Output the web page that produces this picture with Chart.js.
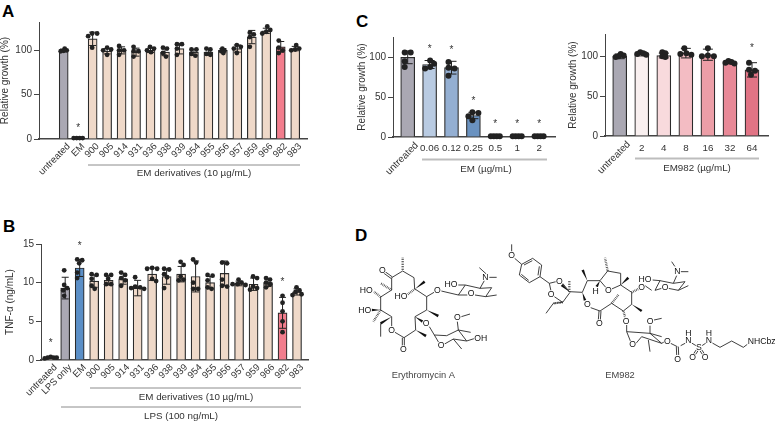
<!DOCTYPE html>
<html><head><meta charset="utf-8">
<script src="https://cdn.jsdelivr.net/npm/chart.js@4/dist/chart.umd.min.js"></script>
<style>
html,body{margin:0;padding:0;background:#fff;width:775px;height:422px;overflow:hidden}
canvas{position:absolute}
.letter{position:absolute;font:bold 17px "Liberation Sans",Arial,sans-serif;color:#000;line-height:17px}
</style></head><body>
<div class="letter" style="left:2px;top:3px">A</div>
<div class="letter" style="left:3px;top:218px">B</div>
<div class="letter" style="left:356px;top:13px">C</div>
<div class="letter" style="left:355px;top:227px">D</div>
<canvas id="cA"></canvas><canvas id="cB"></canvas><canvas id="cC1"></canvas><canvas id="cC2"></canvas>
<canvas id="mol" width="435" height="207" style="left:340px;top:215px"></canvas>
<script>
// ---------- data ----------
const labelsA=['untreated','EM','900','905','914','931','936','938','939','954','955','956','957','959','966','982','983'];
const meansA=[100,1,113,99,100,98,100,98,102,98,98,100,102,115,122,104,102];
const errorsA=[1.5,0,7.5,3,4,4.5,2.5,4,6,3.5,3.5,2,4,7.5,3,6,2.5];
const pointsA=[[102,100,99.5,99],[1,1,1,1],[119,119,116,103],[103,101,100,95],[105,100,100,95],[104,99,99,93],[104,102,100,98],[103,102,97,93],[107,107,102,95],[101,101,96,94],[102,101,96,95],[102,100,99,97],[106,104,102,97],[120,118,115,104],[127,123,121,119],[111,103,100,97],[106,102,101,100]];
const starsA=[[1,14]];
const ticksA=[0,50,100];

const labelsB=['untreated','LPS only','EM','900','905','914','931','936','938','939','954','955','956','957','959','966','982','983'];
const meansB=[0.3,9.3,11.9,10.2,10.3,10.5,9.3,11.1,10.8,11.1,10.8,10,11.2,9.9,9.8,10,6.1,8.8];
const errorsB=[0.05,1.4,1.1,0.8,0.6,0.7,1,0.8,1,1,2,0.8,1.6,0.3,0.8,0.5,2,0.4];
const pointsB=[[0.4,0.3,0.3,0.3,0.2],[11.6,9.7,9.3,9,8.3],[13,12.9,12.5,11.3,10.6],[11.1,11,10.5,9.6,9.2],[11,11,10.5,9.8,9.8],[11.3,11,10.6,10.3,9.6],[10.7,9.5,9.4,9.3,9.2],[11.9,11.8,11.8,10.5,10.2],[11.8,11.7,11.1,10.7,9.3],[12.7,12.3,10.8,10.4,10.3],[13,12.6,10,9.2,9.2],[11,10.9,10.3,9.4,9.2],[12.6,12.5,10.4,9.6,9.5],[10.4,10,9.8,9.8,9.7],[10.8,10.6,9.5,9.3,9.1],[10.6,10.4,10,9.8,9.4],[8.3,7.4,6.3,5,3.6],[9.4,9,8.8,8.5,8.4]];
const starsB=[[0,2.4],[2,15],[16,10.3]];
const ticksB=[0,5,10,15];

const labelsC1=['untreated','0.06','0.12','0.25','0.5','1','2'];
const meansC1=[100,91,87,27,1,1,1];
const errorsC1=[8,5,8,4,0,0,0];
const pointsC1=[[106,106,95,88],[96,92,88,86],[94,87,86,77],[31,30,26,21],[1,1,1,1],[1,1,1,1],[1,1,1,1]];
const starsC1=[[1,113],[2,111],[3,47],[4,18],[5,18],[6,18]];

const labelsC2=['untreated','2','4','8','16','32','64'];
const meansC2=[100,103,101,104,102,92,83];
const errorsC2=[3,2.5,3,6,7,1.5,9];
const pointsC2=[[103,101,100,99],[105,104,103,102],[105,104,100,99],[110,104,103,102],[110,101,100,100],[94,93,92,91],[92,83,82,77]];
const starsC2=[[6,113]];
const ticksC=[0,50,100];

const GREY='#aaa8b3',PEACH='#efd9c9',BLUE='#5b8fc7',PINK='#f27d8d';
const colorsA=labelsA.map((l,i)=>i<1?GREY:i==1?BLUE:l=='982'?PINK:PEACH);
const colorsB=labelsB.map((l,i)=>i==0?PEACH:i==1?GREY:i==2?BLUE:l=='982'?PINK:PEACH);
const colorsC1=[GREY,'#b9cbe2','#94afd2','#6a92c0','#6a92c0','#6a92c0','#6a92c0'];
const colorsC2=[GREY,'#f9f0f0','#f8dadd','#f3bcc3','#ec9ea7','#e88997','#e17485'];

// ---------- helpers ----------
const FONT='"Liberation Sans",Arial,sans-serif', INK='#333';
// Non-overlapping horizontal placement of dots, as in a swarm plot
function swarm(values,diameter,pxY,slot){
  const range=(Math.max(...values)-Math.min(...values))*pxY;
  const dot=diameter*(range<diameter?0.5:0.85);
  const placed=[];
  values.forEach(v=>{
    const y=v*pxY;
    for(let k=0;k<60;k++){
      const off=(k%2?1:-1)*Math.ceil(k/2);
      if(placed.every(p=>Math.hypot(p.x-off,p.y-y)>=dot)){placed.push({x:off,y});break;}
    }
  });
  const xs=placed.map(p=>p.x),mid=(Math.min(...xs)+Math.max(...xs))/2;
  return placed.map(p=>(p.x-mid)/slot);
}
function makeChart(o){
  const cv=document.getElementById(o.id), W=o.canvasW, H=o.canvasH, L=o.canvasLeft, T=o.canvasTop;
  cv.style.left=L+'px'; cv.style.top=T+'px'; cv.width=W; cv.height=H;
  const pxY=(o.bottom-o.top)/o.ymax;
  const pts=[];
  o.points.forEach((vals,i)=>{
    const off=swarm(vals,o.radius*2,pxY,o.slot);
    vals.forEach((v,j)=>pts.push({x:i+off[j],y:v}));
  });
  const overlay={
    id:'overlay',
    afterDatasetDraw(chart,args){
      if(args.index!==0)return;
      const c=chart.ctx,xs=chart.scales.x,ys=chart.scales.y;
      c.save();c.strokeStyle='#222';c.lineWidth=1;
      o.means.forEach((m,i)=>{
        const e=o.errors[i]; if(!e)return;
        const x=xs.getPixelForValue(i),a=ys.getPixelForValue(m-e),b=ys.getPixelForValue(m+e);
        c.beginPath();c.moveTo(x,a);c.lineTo(x,b);
        c.moveTo(x-o.cap,a);c.lineTo(x+o.cap,a);c.moveTo(x-o.cap,b);c.lineTo(x+o.cap,b);c.stroke();
      });
      c.restore();
    },
    afterDraw(chart){
      const c=chart.ctx,xs=chart.scales.x,ys=chart.scales.y;
      c.save();
      c.fillStyle=INK;c.textAlign='center';c.textBaseline='middle';
      c.font='10px '+FONT;
      o.stars.forEach(s=>c.fillText('*',xs.getPixelForValue(s[0]),ys.getPixelForValue(s[1])+2));
      if(o.soloLabel){
        c.save();c.translate(xs.getPixelForValue(0)+o.soloDx,chart.chartArea.bottom+o.soloDy);
        c.rotate(-Math.PI/4);c.textAlign='right';c.font=o.tickFont+'px '+FONT;c.fillText(o.labels[0],0,0);c.restore();
      }
      o.groups.forEach(g=>{
        c.strokeStyle=g.color;c.lineWidth=g.width;
        c.beginPath();c.moveTo(g.x1-L,g.y-T);c.lineTo(g.x2-L,g.y-T);c.stroke();
        c.fillStyle=INK;c.font=o.groupFont+'px '+FONT;c.fillText(g.text,g.tx-L,g.ty-T);
      });
      c.restore();
    }
  };
  return new Chart(cv,{
    data:{datasets:[
      {type:'bar',data:o.means.map((v,i)=>({x:i,y:v})),backgroundColor:o.colors,borderColor:'#2b2b2b',borderWidth:1.2,barThickness:o.barW,order:2},
      {type:'scatter',data:pts,backgroundColor:'#222',borderWidth:0,pointRadius:o.radius,pointHoverRadius:o.radius,order:1,clip:false}
    ]},
    options:{
      responsive:false,animation:false,devicePixelRatio:1,
      layout:{padding:{left:0,top:o.top-T,right:L+W-o.right,bottom:0}},
      plugins:{legend:{display:false},tooltip:{enabled:false}},
      scales:{
        x:{type:'linear',offset:false,min:(o.left-o.first)/o.slot,max:(o.right-o.first)/o.slot,
          grid:{offset:false,drawOnChartArea:false,drawTicks:false},
          border:{display:true,color:'#444',width:1.4},
          afterBuildTicks:a=>{a.ticks=o.labels.map((_,i)=>({value:i}));},
          afterFit:s=>{s.height=T+H-o.bottom;},
          ticks:{autoSkip:false,padding:o.tickPad,labelOffset:o.rot?5:0,color:INK,font:{family:FONT,size:o.tickFont},
            minRotation:o.rot,maxRotation:o.rot,
            callback:v=>(o.soloLabel&&v===0)?'':o.labels[v]}},
        y:{type:'linear',min:0,max:o.ymax,
          grid:{drawOnChartArea:false,drawTicks:true,tickLength:5,color:'#444'},
          border:{display:true,color:'#444',width:1},
          afterBuildTicks:a=>{a.ticks=o.ticks.map(v=>({value:v}));},
          afterFit:s=>{s.width=o.left-L;},
          title:{display:true,text:o.yTitle,color:INK,padding:0,font:{family:FONT,size:10}},
          ticks:{padding:2,color:INK,font:{family:FONT,size:10}}}
      }
    },
    plugins:[overlay]
  });
}
const GL='#8c8c8c',GC='#bdbdbd';
makeChart({id:'cA',canvasLeft:-1,canvasTop:0,canvasW:325,canvasH:185,left:39,right:307,top:22,bottom:139,first:63.7,slot:14.47,barW:9,cap:3.5,radius:2.4,ymax:132,
  labels:labelsA,means:meansA,errors:errorsA,points:pointsA,stars:starsA,ticks:ticksA,colors:colorsA,yTitle:'Relative growth (%)',rot:45,tickFont:9.5,tickPad:2,groupFont:9.8,
  groups:[{x1:88,x2:300,y:165,color:GL,width:1,text:'EM derivatives (10 µg/mL)',tx:194,ty:173}]});
makeChart({id:'cB',canvasLeft:4,canvasTop:235,canvasW:320,canvasH:187,left:41,right:308,top:244,bottom:360,first:50.7,slot:14.49,barW:9,cap:3.5,radius:2.4,ymax:15,
  labels:labelsB,means:meansB,errors:errorsB,points:pointsB,stars:starsB,ticks:ticksB,colors:colorsB,yTitle:'TNF-α (ng/mL)',rot:45,tickFont:9.5,tickPad:2,groupFont:9.8,
  groups:[{x1:90,x2:301,y:388,color:GL,width:1,text:'EM derivatives (10 µg/mL)',tx:196,ty:397},{x1:61,x2:301,y:407,color:GL,width:1,text:'LPS (100 ng/mL)',tx:181,ty:416}]});
makeChart({id:'cC1',canvasLeft:356,canvasTop:25,canvasW:210,canvasH:160,left:393,right:555,top:37,bottom:137,first:407.7,slot:21.9,barW:14,cap:5,radius:3,ymax:125.5,
  labels:labelsC1,means:meansC1,errors:errorsC1,points:pointsC1,stars:starsC1,ticks:ticksC,colors:colorsC1,yTitle:'Relative growth (%)',rot:0,tickFont:9.8,tickPad:5,groupFont:9.8,soloLabel:true,soloDx:9,soloDy:7,
  groups:[{x1:422,x2:547,y:159.5,color:GC,width:2,text:'EM (µg/mL)',tx:486,ty:169}]});
makeChart({id:'cC2',canvasLeft:567,canvasTop:25,canvasW:208,canvasH:160,left:605,right:768,top:34,bottom:136,first:619.7,slot:22.05,barW:14,cap:5,radius:3,ymax:128,
  labels:labelsC2,means:meansC2,errors:errorsC2,points:pointsC2,stars:starsC2,ticks:ticksC,colors:colorsC2,yTitle:'Relative growth (%)',rot:0,tickFont:9.8,tickPad:6,groupFont:9.8,soloLabel:true,soloDx:9,soloDy:7,
  groups:[{x1:635,x2:759,y:158.5,color:GC,width:2,text:'EM982 (µg/mL)',tx:697,ty:168}]});

// ---------- chemical structures (decoration, not chart data) ----------
const bonds=[
// Erythromycin A
[188,168,155,188],[188,168,222,188],[222,188,224,222],[155,188,155,225],[155,225,122,246],[122,246,122,285],[122,285,155,305],[155,305,155,335],[122,325,122,365],[165,352,192,368],[192,368,227,345],[227,345,225,305],[225,305,260,285],[260,285,260,245],[260,245,225,222],[260,245,282,232],[304,228,355,240],
[355,240,376,210],[376,210,420,220],[420,220,455,218],[455,218,437,245],[437,245,405,240],[382,240,355,240],[420,220,433,197],[440,178,418,158],[448,187,470,187],[437,245,470,240],[376,210,355,210],
[268,335,283,360],[283,360,296,382],[312,388,340,372],[283,360,320,362],[320,362,355,345],[340,372,380,378],[355,345,380,378],[355,345,352,320],[364,305,390,297],[355,345,392,352],[340,372,365,402],[380,378,405,370],
// EM982
[515,88,515,112],[524,130,545,148],[545,148,578,130],[578,130,605,150],[605,150,600,185],[600,185,568,203],[568,203,538,180],[538,180,545,148],[600,185,628,205],[628,205,648,200],[628,205,633,228],[668,205,688,230],[643,245,668,262],[668,262,690,232],[640,265,618,295],[668,262,640,265],[688,230,727,232],[727,232,742,197],[742,197,780,197],[752,278,780,288],[780,288,815,265],[815,265,850,288],[850,288,875,268],[875,268,875,232],[875,232,842,210],[842,210,842,175],[842,175,803,168],[803,168,780,197],[780,197,798,218],[815,222,842,210],
[915,212,935,226],[945,226,960,197],[960,197,1000,205],[1000,205,1035,200],[1035,200,1015,226],[1015,226,985,220],[965,220,945,226],[1000,205,1010,182],[1005,155,995,140],[1022,170,1045,170],[1015,226,1045,212],[960,197,938,195],
[860,330,860,350],[860,350,872,380],[888,385,905,365],[860,350,930,355],[905,365,965,385],[930,355,965,385],[930,355,930,332],[942,315,965,310],[930,355,965,365],[925,375,930,410],[965,385,972,381],[992,385,1012,395],[1022,392,1037,384],[1055,384,1068,392],[1086,392,1098,384],[1117,384,1140,397],[1140,397,1175,378],[1175,378,1210,397],[1210,397,1222,388],
// inner benzene strokes
[552,150,577,137],[598,154,594,181],[566,196,544,178]
];
const doubles=[[155,188,133,172],[190,368,190,395],[780,288,778,315],[1012,395,1013,420],[1072,405,1062,420],[1082,405,1092,420]];
const wedges=[[227,345,258,363],[122,285,95,285],[155,305,122,325],[225,305,248,320],[260,285,295,303],[225,222,254,200],[742,197,728,165],[688,230,665,210],[727,232,735,256],[875,268,905,288],[842,210,865,188],[780,197,770,215]];
const hashes=[[188,165,188,125],[155,225,122,205],[122,246,102,230],[122,285,100,320],[225,222,203,238],[668,262,640,265],[688,230,688,195],[815,265,835,240],[850,288,856,308],[875,232,895,222],[803,168,795,128]];
const atoms=[['O',127,168],['HO',79,226],['HO',183,245],['HO',74,286],['O',155,346],['O',190,405],['O',258,326],['O',292,228],['HO',333,209],['O',393,236],['N',436,188],['O',303,391],['O',352,309],['OH',422,371],
['O',515,123],['O',658,201],['O',633,238],['H',767,229],['O',805,226],['O',742,268],['O',778,325],['O',858,319],['O',905,217],['HO',915,194],['O',975,218],['N',1012,170],['O',930,320],['O',878,389],['O',982,381],['O',1013,433],['H',1045,356],['N',1045,378],['S',1077,397],['O',1058,429],['O',1095,429],['H',1107,356],['N',1107,378],['NHCbz',1265,380]];
const titles=[['Erythromycin A',250,481],['EM982',840,481]];
const m=document.getElementById('mol').getContext('2d');
m.scale(1/3,1/3);
const seg=(a,b,c,d)=>{m.beginPath();m.moveTo(a,b);m.lineTo(c,d);m.stroke();};
m.strokeStyle='#222';m.lineWidth=2.6;
bonds.forEach(b=>seg(...b));
doubles.forEach(b=>{const dx=b[2]-b[0],dy=b[3]-b[1],n=Math.hypot(dx,dy),px=-dy/n*3,py=dx/n*3;
  [1,-1].forEach(k=>seg(b[0]+k*px,b[1]+k*py,b[2]+k*px,b[3]+k*py));});
m.fillStyle='#111';
wedges.forEach(b=>{const dx=b[2]-b[0],dy=b[3]-b[1],n=Math.hypot(dx,dy),px=-dy/n*4,py=dx/n*4;
  m.beginPath();m.moveTo(b[0],b[1]);m.lineTo(b[2]+px,b[3]+py);m.lineTo(b[2]-px,b[3]-py);m.closePath();m.fill();});
m.save();m.strokeStyle='#333';m.lineWidth=7;m.setLineDash([2,3]);
hashes.forEach(b=>seg(...b));m.restore();
m.textAlign='center';m.textBaseline='middle';m.font='26px '+FONT;
atoms.forEach(a=>{m.strokeStyle='#fff';m.lineWidth=5;m.strokeText(a[0],a[1],a[2]);m.fillStyle='#111';m.fillText(a[0],a[1],a[2]);});
m.font='28px '+FONT;m.fillStyle='#444';
titles.forEach(a=>m.fillText(a[0],a[1],a[2]));
</script>
</body></html>
